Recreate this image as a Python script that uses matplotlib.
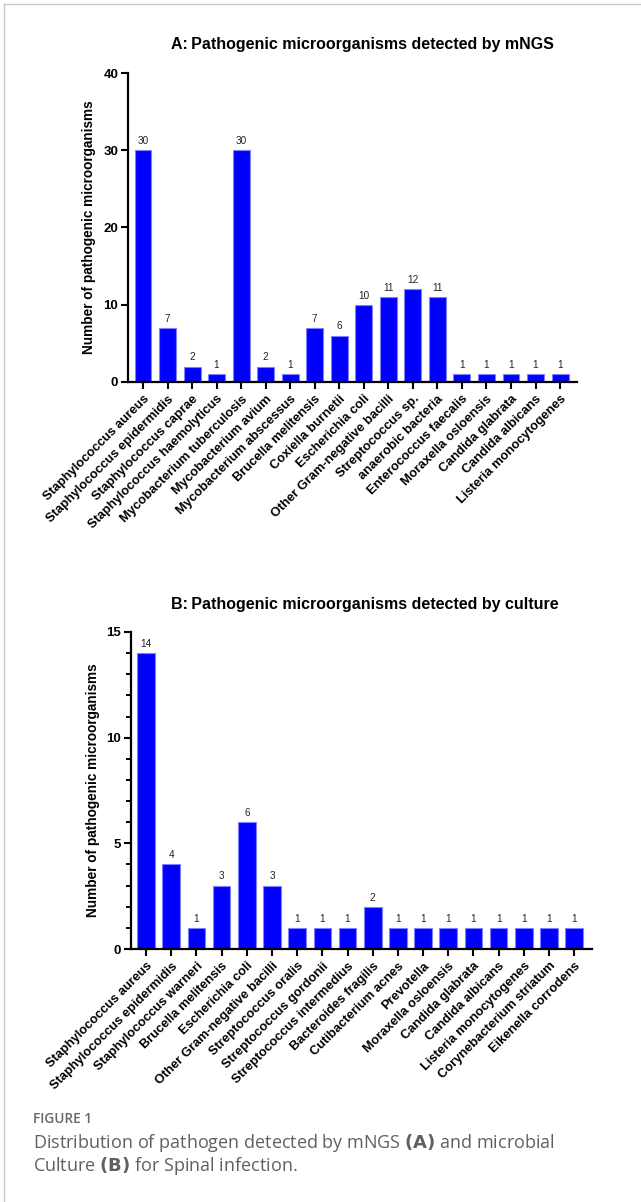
import matplotlib
matplotlib.use("Agg")
import matplotlib.pyplot as plt
from matplotlib.lines import Line2D
from matplotlib.ticker import MultipleLocator

plt.rcParams['font.family'] = ['Liberation Sans', 'Noto Sans CJK SC', 'DejaVu Sans']

# ---- Data ----
mngs_labels = ["Staphylococcus aureus", "Staphylococcus epidermidis", "Staphylococcus caprae",
               "Staphylococcus haemolyticus", "Mycobacterium tuberculosis", "Mycobacterium avium",
               "Mycobacterium abscessus", "Brucella melitensis", "Coxiella burnetii",
               "Escherichia coli", "Other Gram-negative bacilli", "Streptococcus sp.",
               "anaerobic bacteria", "Enterococcus faecalis", "Moraxella osloensis",
               "Candida glabrata", "Candida albicans", "Listeria monocytogenes"]
mngs_values = [30, 7, 2, 1, 30, 2, 1, 7, 6, 10, 11, 12, 11, 1, 1, 1, 1, 1]

culture_labels = ["Staphylococcus aureus", "Staphylococcus epidermidis", "Staphylococcus warneri",
                  "Brucella melitensis", "Escherichia coli", "Other Gram-negative bacilli",
                  "Streptococcus oralis", "Streptococcus gordonii", "Streptococcus intermedius",
                  "Bacteroides fragilis", "Cutibacterium acnes", "Prevotella",
                  "Moraxella osloensis", "Candida glabrata", "Candida albicans",
                  "Listeria monocytogenes", "Corynebacterium striatum", "Eikenella corrodens"]
culture_values = [14, 4, 1, 3, 6, 3, 1, 1, 1, 2, 1, 1, 1, 1, 1, 1, 1, 1]

title_a = "A:\u2009Pathogenic microorganisms detected by mNGS"
title_b = "B:\u2009Pathogenic microorganisms detected by culture"
ylabel = "Number of pathogenic microorganisms"

W, H = 641, 1202
fig = plt.figure(figsize=(W / 100, H / 100), dpi=100)


def px_axes(left, top, right, bottom):
    return fig.add_axes([left / W, 1 - bottom / H, (right - left) / W, (bottom - top) / H])


def draw_panel(ax, labels, values, ymax, yticks, minor, xlim, width, ypad):
    x = list(range(len(labels)))
    ax.bar(x, values, width=width, color='#0000ff', edgecolor='#8080ff', linewidth=0.8, zorder=2)
    for xi, v in zip(x, values):
        ax.annotate(str(v), (xi, v), xytext=(0, 3), textcoords='offset points',
                    ha='center', va='bottom', fontsize=7.2, color='#222222')
    ax.set_xlim(*xlim)
    ax.set_ylim(0, ymax)
    ax.set_yticks(yticks)
    if minor:
        ax.yaxis.set_minor_locator(MultipleLocator(minor))
        ax.tick_params(axis='y', which='minor', length=3.5, width=1.4)
    ax.set_xticks(x)
    ax.set_xticklabels(labels, rotation=45, ha='right', rotation_mode='anchor',
                       fontsize=9.3, fontweight='bold')
    for lab in ax.get_yticklabels():
        lab.set_fontweight('bold')
        lab.set_fontsize(9.5)
    ax.tick_params(axis='both', which='major', length=5, width=1.5, pad=2)
    ax.tick_params(axis='x', pad=3)
    for s in ['top', 'right']:
        ax.spines[s].set_visible(False)
    for s in ['left', 'bottom']:
        ax.spines[s].set_linewidth(1.6)
    ax.set_ylabel(ylabel, fontsize=9.8, fontweight='bold', labelpad=ypad)


axA = px_axes(128, 73, 577, 382)
draw_panel(axA, mngs_labels, mngs_values, 40, [0, 10, 20, 30, 40], None, (-0.61, 17.69), 0.69, 5)
axB = px_axes(131, 632, 592, 949)
draw_panel(axB, culture_labels, culture_values, 15, [0, 5, 10, 15], 1, (-0.6, 17.71), 0.7, 5)

fig.text(362 / W, 1 - 45 / H, title_a, ha='center', va='center', fontsize=11.5, fontweight='bold')
fig.text(365 / W, 1 - 604 / H, title_b, ha='center', va='center', fontsize=11.5, fontweight='bold')

# Caption
fig.text(33 / W, 1 - 1119 / H, "FIGURE 1", ha='left', va='center', fontsize=9.8,
         color='#666666', family=['Open Sans', 'DejaVu Sans'], fontweight='semibold')
cap_font = ['Open Sans', 'DejaVu Sans']
fig.text(33 / W, 1 - 1143 / H,
         r"Distribution of pathogen detected by mNGS $\mathbf{(A)}$ and microbial",
         ha='left', va='center', fontsize=13, color='#606060', family=cap_font)
fig.text(33 / W, 1 - 1166 / H,
         r"Culture $\mathbf{(B)}$ for Spinal infection.",
         ha='left', va='center', fontsize=13, color='#606060', family=cap_font)

# light page frame
fig.add_artist(Line2D([4 / W, 1], [1 - 4 / H, 1 - 4 / H], color='#c8c8c8', linewidth=1.0))
fig.add_artist(Line2D([4 / W, 4 / W], [0, 1 - 4 / H], color='#c8c8c8', linewidth=1.0))

fig.savefig("out.png", dpi=100)
